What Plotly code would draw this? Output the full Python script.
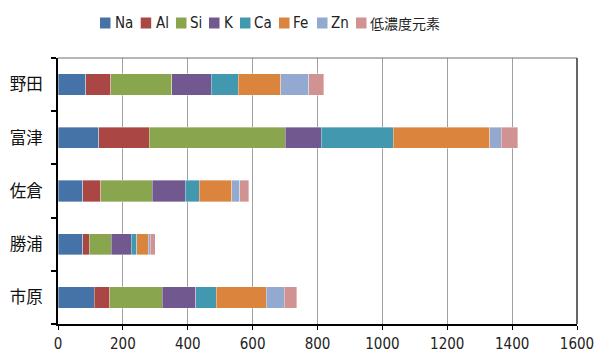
import plotly.graph_objects as go

categories = ["市原", "勝浦", "佐倉", "富津", "野田"]
series_names = ["Na", "Al", "Si", "K", "Ca", "Fe", "Zn", "低濃度元素"]
Na = [112, 76, 76, 125, 85]
Al = [47, 21, 56, 157, 77]
Si = [162, 67, 158, 419, 188]
K = [103, 62, 103, 111, 122]
Ca = [64, 16, 43, 222, 83]
Fe = [154, 36, 100, 297, 131]
Zn = [55, 7, 24, 36, 87]
Low = [39, 15, 28, 51, 46]
x_ticks = [0, 200, 400, 600, 800, 1000, 1200, 1400, 1600]

values = [Na, Al, Si, K, Ca, Fe, Zn, Low]
colors = ["#4572A7", "#AA4643", "#89A54E", "#71588F", "#4198AF", "#DB843D", "#93A9CF", "#D19392"]

LAT = "DejaVu Sans Condensed, Liberation Sans Narrow, Liberation Sans, Noto Sans CJK JP, sans-serif"
CJK = "Noto Sans CJK JP, sans-serif"

fig = go.Figure()
for name, vals, col in zip(series_names, values, colors):
    fig.add_trace(go.Bar(
        y=categories, x=vals, name=name, orientation="h",
        marker=dict(color=col, line=dict(color="rgba(255,255,255,0.6)", width=0.6)),
        showlegend=False,
    ))

W, H = 595, 354
L, R, T, B = 58, 18, 58, 30
pw, ph = W - L - R, H - T - B

# custom legend (pixel layout)
sq_x = [100, 140.7, 176, 209, 240, 279, 317, 356]
txt_x = [113.3, 153.7, 188.3, 222.3, 252.3, 291, 329.3, 368]
leg_y = 23
shapes = []
annotations = []
for name, col, sx, tx in zip(series_names, colors, sq_x, txt_x):
    x0 = (sx - L) / pw
    x1 = (sx + 10.5 - L) / pw
    y0 = (H - B - (leg_y + 5.5)) / ph
    y1 = (H - B - (leg_y - 5.5)) / ph
    shapes.append(dict(type="rect", xref="paper", yref="paper", x0=x0, x1=x1, y0=y0, y1=y1,
                       fillcolor=col, line=dict(width=0)))
    annotations.append(dict(xref="paper", yref="paper", x=(tx - L) / pw, y=(H - B - leg_y) / ph,
                            xanchor="left", yanchor="middle", showarrow=False, text=name,
                            font=dict(family=LAT if name.isascii() else CJK,
                                      size=15 if name.isascii() else 14, color="#222")))

# top border and right border
shapes.append(dict(type="line", xref="paper", yref="paper", x0=0, x1=1, y0=1, y1=1,
                   line=dict(color="#6e6e6e", width=1.2)))
shapes.append(dict(type="line", xref="paper", yref="paper", x0=1, x1=1, y0=0, y1=1,
                   line=dict(color="#333333", width=1.5)))

fig.update_layout(
    barmode="stack",
    bargap=0.6,
    width=W, height=H,
    margin=dict(l=L, r=R, t=T, b=B, pad=0, autoexpand=False),
    plot_bgcolor="white", paper_bgcolor="white",
    shapes=shapes, annotations=annotations,
    xaxis=dict(range=[0, 1600], tickvals=x_ticks, ticktext=[str(v) for v in x_ticks],
               showgrid=True, gridcolor="#A0A0A0", gridwidth=1.2,
               showline=True, linecolor="black", linewidth=2,
               ticks="outside", ticklen=4, tickcolor="black", tickwidth=1,
               ticklabelstandoff=1,
               tickfont=dict(family=LAT, size=15, color="#222"), zeroline=False,
               automargin=False, fixedrange=True),
    yaxis=dict(type="category", categoryorder="array", categoryarray=categories,
               showline=True, linecolor="black", linewidth=2,
               ticks="outside", ticklen=5, tickcolor="black", tickwidth=1.5,
               tickson="boundaries", ticklabelstandoff=10,
               tickfont=dict(family=CJK, size=16.5, color="#111"), showgrid=False,
               automargin=False, fixedrange=True),
)

fig.write_html("out.html")
